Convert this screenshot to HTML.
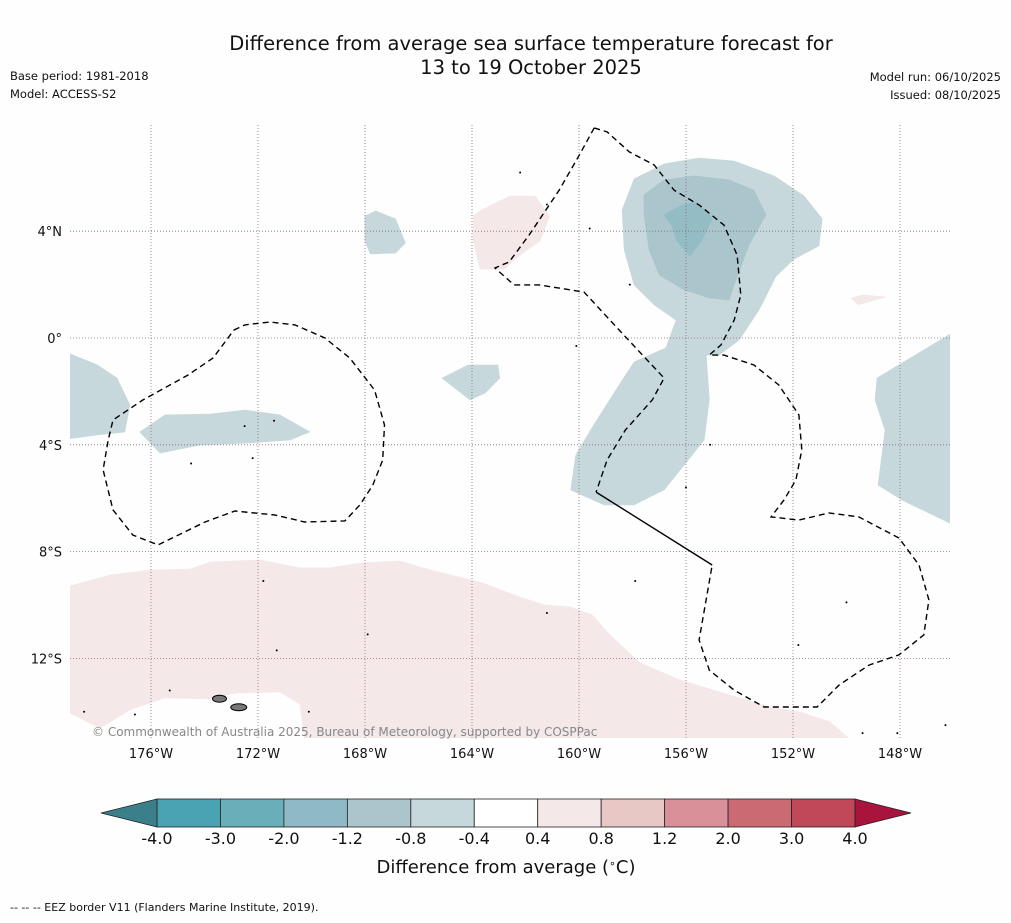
<!DOCTYPE html>
<html><head><meta charset="utf-8"><style>
body{margin:0;background:#fefefe;width:1011px;height:919px;overflow:hidden;font-family:"DejaVu Sans","Liberation Sans",sans-serif}
svg text{font-family:"DejaVu Sans","Liberation Sans",sans-serif}
</style></head><body>
<svg id="chart" width="1011" height="919" xmlns="http://www.w3.org/2000/svg">
<text x="531" y="50" font-size="19.5" text-anchor="middle" fill="#111">Difference from average sea surface temperature forecast for</text>
<text x="531" y="74" font-size="19.5" text-anchor="middle" fill="#111">13 to 19 October 2025</text>
<text x="10" y="80" font-size="11.5" fill="#111">Base period: 1981-2018</text>
<text x="10" y="98" font-size="11.5" fill="#111">Model: ACCESS-S2</text>
<text x="1001" y="81" font-size="11.5" text-anchor="end" fill="#111">Model run: 06/10/2025</text>
<text x="1001" y="99" font-size="11.5" text-anchor="end" fill="#111">Issued: 08/10/2025</text>
<defs><clipPath id="mapclip"><rect x="70" y="125" width="880" height="613"/></clipPath></defs>
<g id="map" clip-path="url(#mapclip)"></g>
<g id="axes"></g>
<text x="92" y="736" font-size="12" fill="#888">© Commonwealth of Australia 2025, Bureau of Meteorology, supported by COSPPac</text>
<g id="cbar"></g>
<text x="506" y="873" font-size="18" text-anchor="middle" fill="#111">Difference from average (<tspan font-size="11" dy="-6">∘</tspan><tspan dy="6">C)</tspan></text>
<text x="10" y="911" font-size="11" fill="#111">-- -- -- EEZ border V11 (Flanders Marine Institute, 2019).</text>
</svg>
<script>
const lonTicks=[-176,-172,-168,-164,-160,-156,-152,-148];
const latTicks=[4,0,-4,-8,-12];
const levels=[-4.0,-3.0,-2.0,-1.2,-0.8,-0.4,0.4,0.8,1.2,2.0,3.0,4.0];
const levelColors=["#4aa3b3","#6aaeb9","#8fb9c4","#aac6cc","#c6d8dc","#ffffff","#f4e8e8","#e8c8c4","#d99098","#cc6a74","#c04858"];
const pinkSouth=[[-179.03,-9.29],[-177.53,-8.88],[-176.04,-8.69],[-174.54,-8.65],[-173.79,-8.39],[-171.93,-8.31],[-170.43,-8.61],[-169.31,-8.61],[-168.19,-8.43],[-166.69,-8.35],[-165.57,-8.69],[-163.70,-9.14],[-162.21,-9.70],[-161.27,-10.0],[-160.34,-10.07],[-159.51,-10.37],[-158.84,-11.12],[-157.72,-12.17],[-156.22,-12.81],[-154.73,-13.26],[-152.86,-13.82],[-151.74,-14.01],[-150.62,-14.38],[-149.68,-15.2],[-170.24,-15.2],[-170.43,-13.71],[-171.18,-13.26],[-172.86,-13.30],[-173.79,-13.52],[-175.48,-13.48],[-176.79,-13.93],[-177.91,-14.61],[-179.03,-14.04]];
const pinkNorth=[[-163.95,4.57],[-163.70,4.76],[-162.58,5.32],[-161.65,5.32],[-161.09,4.57],[-161.46,3.63],[-162.40,2.96],[-162.77,2.58],[-163.70,2.58],[-163.95,3.63]];
const pinkEast=[[-149.83,1.50],[-149.38,1.61],[-148.52,1.54],[-149.57,1.24]];
const blueWest=[[-179.1,-0.56],[-178.0,-1.01],[-177.27,-1.50],[-176.79,-2.51],[-176.98,-3.52],[-178.0,-3.63],[-179.1,-3.78]];
const blueBand=[[-176.42,-3.52],[-175.48,-2.88],[-173.79,-2.85],[-172.49,-2.70],[-171.18,-2.88],[-170.06,-3.52],[-170.80,-3.82],[-172.30,-3.93],[-174.17,-4.01],[-175.66,-4.31]];
const blueSmallN=[[-168.0,4.57],[-167.6,4.76],[-166.86,4.46],[-166.49,3.56],[-166.86,3.18],[-167.80,3.15],[-168.0,3.63]];
const blueMid=[[-165.12,-1.50],[-164.15,-1.01],[-163.03,-1.01],[-162.96,-1.50],[-163.51,-2.06],[-164.07,-2.32]];
const blueBig=[[-160.31,-5.69],[-160.12,-4.38],[-159.45,-3.26],[-158.50,-1.76],[-157.94,-0.90],[-156.75,-0.37],[-156.37,0.67],[-157.19,1.24],[-157.94,1.99],[-158.31,3.30],[-158.39,4.79],[-157.94,5.96],[-156.82,6.52],[-155.51,6.74],[-154.20,6.63],[-152.71,6.07],[-151.59,5.32],[-150.91,4.46],[-151.03,3.45],[-151.96,2.96],[-152.63,2.32],[-153.27,1.05],[-154.01,-0.07],[-154.76,-0.64],[-155.24,-0.64],[-155.13,-2.32],[-155.32,-3.82],[-156.07,-4.76],[-156.82,-5.69],[-157.94,-6.25],[-159.06,-6.25]];
const blueEast=[[-146.0,0.22],[-148.86,-1.50],[-148.93,-2.32],[-148.56,-3.45],[-148.82,-5.51],[-147.92,-6.07],[-146.0,-7.00]];
const blueMed=[[-157.57,5.36],[-156.82,5.92],[-155.70,6.07],[-154.39,5.92],[-153.46,5.54],[-153.01,4.61],[-153.65,3.48],[-154.20,1.99],[-154.39,1.42],[-155.13,1.50],[-156.07,1.80],[-157.0,2.36],[-157.38,3.30],[-157.57,4.61]];
const blueDark=[[-156.82,4.61],[-156.15,4.98],[-155.62,5.10],[-155.02,4.49],[-155.40,3.67],[-155.85,3.07],[-156.34,3.63],[-156.52,4.19]];
const eezLeft=[[-172.9,0.30],[-172.49,0.49],[-171.56,0.60],[-170.62,0.49],[-169.50,0.0],[-168.57,-0.75],[-167.64,-1.95],[-167.27,-3.26],[-167.34,-4.57],[-167.71,-5.51],[-168.19,-6.25],[-168.75,-6.85],[-170.25,-6.89],[-171.37,-6.63],[-172.86,-6.48],[-173.98,-6.89],[-175.74,-7.75],[-176.68,-7.38],[-177.42,-6.44],[-177.79,-4.94],[-177.60,-3.82],[-177.42,-3.07],[-176.30,-2.32],[-174.62,-1.39],[-173.68,-0.75],[-172.9,0.30]];
const eezMid=[[-159.43,7.87],[-158.95,7.72],[-158.12,6.97],[-157.19,6.48],[-156.45,5.54],[-155.51,4.98],[-154.58,4.23],[-154.09,3.11],[-153.95,1.61],[-154.20,0.67],[-154.69,-0.26],[-155.13,-0.64],[-154.58,-0.64],[-153.46,-1.01],[-152.53,-1.76],[-151.78,-2.88],[-151.67,-4.19],[-151.89,-5.32],[-152.34,-6.07],[-152.82,-6.70],[-151.78,-6.82],[-150.66,-6.55],[-149.54,-6.70],[-148.04,-7.49],[-147.29,-8.50],[-146.92,-9.81],[-147.11,-11.12],[-148.04,-11.87],[-149.16,-12.25],[-150.28,-13.0],[-151.10,-13.82],[-153.08,-13.82],[-154.20,-13.19],[-155.13,-12.44],[-155.51,-11.31],[-155.02,-8.50]];
const eezSolid=[[-159.36,-5.77],[-155.02,-8.50]];
const eezNorth=[[-159.43,7.87],[-159.99,6.85],[-160.74,5.54],[-161.86,3.86],[-162.61,2.85],[-163.14,2.62],[-162.43,1.99],[-161.49,1.99],[-159.81,1.72],[-158.50,0.30],[-156.82,-1.50],[-157.26,-2.32],[-158.27,-3.45],[-158.95,-4.57],[-159.36,-5.77]];
const islands=[[-173.44,-13.51],[-172.72,-13.83]];
const islets=[[-176.6,-14.1],[-170.1,-14.0],[-167.9,-11.1],[-161.2,-10.3],[-157.9,-9.1],[-156.0,-5.6],[-155.1,-4.0],[-159.6,4.1],[-158.1,2.0],[-161.2,5.0],[-162.2,6.2],[-160.1,-0.3],[-150.0,-9.9],[-151.8,-11.5],[-149.4,-14.8],[-148.1,-14.8],[-146.3,-14.5],[-172.5,-3.3],[-171.4,-3.1],[-172.2,-4.5],[-174.5,-4.7],[-171.8,-9.1],[-171.3,-11.7],[-175.3,-13.2],[-178.5,-14.0]];
const X=lon=>151+(lon+176)*26.75;
const Y=lat=>338-lat*26.7;
const NS="http://www.w3.org/2000/svg";
const map=document.getElementById('map'),axes=document.getElementById('axes'),cb=document.getElementById('cbar');
function mk(tag,attrs,parent){const e=document.createElementNS(NS,tag);for(const k in attrs)e.setAttribute(k,attrs[k]);parent.appendChild(e);return e;}
function pts(a){return a.map(p=>X(p[0]).toFixed(1)+','+Y(p[1]).toFixed(1)).join(' ');}
function poly(a,fill,name){const e=mk('polygon',{points:pts(a),fill:fill,stroke:fill,'stroke-width':0.6},map);

}
poly(pinkSouth,levelColors[6],'warm-anomaly-south');
poly(pinkNorth,levelColors[6],'warm-anomaly-north');
poly(pinkEast,levelColors[6],'warm-anomaly-east');
[blueWest,blueBand,blueSmallN,blueMid,blueBig,blueEast].forEach((a,i)=>poly(a,levelColors[4],'cool-anomaly-'+i));
poly(blueMed,levelColors[3],'cool-anomaly-medium');
poly(blueDark,"#93bcc5",'cool-anomaly-strong');
lonTicks.forEach(l=>{const e=mk('line',{x1:X(l),x2:X(l),y1:125,y2:738,stroke:'#8a6a7a','stroke-width':0.8,'stroke-dasharray':'1,2'},map);


const t=mk('text',{x:X(l),y:758,'font-size':13,'text-anchor':'middle',fill:'#111'},axes);t.textContent=Math.abs(l)+'°W';

});
latTicks.forEach(l=>{const e=mk('line',{x1:70,x2:950,y1:Y(l),y2:Y(l),stroke:'#8a6a7a','stroke-width':0.8,'stroke-dasharray':'1,2'},map);


const t=mk('text',{x:62,y:Y(l)+5,'font-size':13,'text-anchor':'end',fill:'#111'},axes);t.textContent=l===0?'0°':Math.abs(l)+'°'+(l>0?'N':'S');

});
function line(a,dash,name){const e=mk('polyline',{points:pts(a),fill:'none',stroke:'#000','stroke-width':1.4,'stroke-dasharray':dash},map);

}
line(eezLeft,'6,4','eez-border-west');
line(eezMid,'6,4','eez-border-east');
line(eezNorth,'6,4','eez-border-north');
line(eezSolid,'none','eez-border-solid');
islands.forEach((p,i)=>{const e=mk('ellipse',{cx:X(p[0]),cy:Y(p[1]),rx:i?8:7,ry:3.5,fill:'#777',stroke:'#000','stroke-width':1},map);

});
islets.forEach(p=>{const e=mk('circle',{cx:X(p[0]),cy:Y(p[1]),r:1,fill:'#000'},map);

});
const cx0=157,cx1=855,cy=799,ch=28,seg=(cx1-cx0)/(levels.length-1);
levelColors.forEach((c,i)=>{const e=mk('rect',{x:cx0+i*seg,y:cy,width:seg,height:ch,fill:c,stroke:'#222','stroke-width':0.8},cb);

});
const lt=mk('polygon',{points:`${cx0},${cy} ${cx0},${cy+ch} 101,${cy+ch/2}`,fill:'#3a7f8a',stroke:'#222','stroke-width':0.8},cb);


const rt=mk('polygon',{points:`${cx1},${cy} ${cx1},${cy+ch} 911,${cy+ch/2}`,fill:'#a8143c',stroke:'#222','stroke-width':0.8},cb);


levels.forEach((v,i)=>{const t=mk('text',{x:cx0+i*seg,y:844,'font-size':16,'text-anchor':'middle',fill:'#111'},cb);t.textContent=v.toFixed(1);

});
</script>
</body></html>
